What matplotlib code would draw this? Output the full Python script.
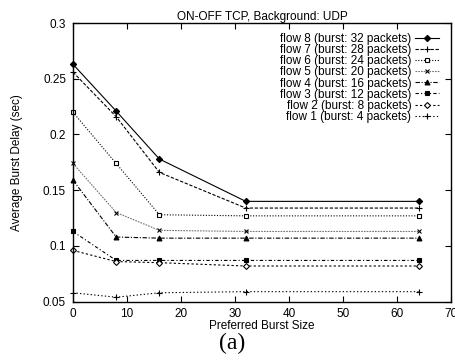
import matplotlib
matplotlib.use('Agg')
import matplotlib.pyplot as plt
from matplotlib.ticker import FormatStrFormatter

plt.rcParams['font.family'] = ['Liberation Sans', 'DejaVu Sans']
plt.rcParams['font.size'] = 8.5

burst_sizes = [0, 8, 16, 32, 64]

labels = [
    'flow 8 (burst: 32 packets)',
    'flow 7 (burst: 28 packets)',
    'flow 6 (burst: 24 packets)',
    'flow 5 (burst: 20 packets)',
    'flow 4 (burst: 16 packets)',
    'flow 3 (burst: 12 packets)',
    'flow 2 (burst: 8 packets)',
    'flow 1 (burst: 4 packets)',
]

flow8 = [0.263, 0.221, 0.178, 0.140, 0.140]
flow7 = [0.256, 0.216, 0.166, 0.134, 0.134]
flow6 = [0.220, 0.174, 0.128, 0.127, 0.127]
flow5 = [0.174, 0.130, 0.114, 0.113, 0.113]
flow4 = [0.159, 0.108, 0.107, 0.107, 0.107]
flow3 = [0.113, 0.087, 0.087, 0.087, 0.087]
flow2 = [0.096, 0.086, 0.085, 0.082, 0.082]
flow1 = [0.058, 0.054, 0.058, 0.059, 0.059]

series = [flow8, flow7, flow6, flow5, flow4, flow3, flow2, flow1]

# gnuplot-ish styles: (colour, dashes, marker, filled, markersize)
styles = [
    ('black', '-', 'D', True, 3.2),
    ('black', (0, (3, 1.5)), '+', True, 4.5),
    ('black', (0, (1, 1.5)), 's', False, 3.5),
    ('0.45', (0, (1.5, 1)), 'x', True, 3.5),
    ('black', (0, (4, 1.5, 1, 1.5)), '^', True, 3.5),
    ('black', (0, (3, 2, 1, 2)), 's', True, 3.2),
    ('black', (0, (2, 2)), 'D', False, 3.0),
    ('black', (0, (1.2, 2)), '+', True, 4.0),
]

fig = plt.figure(figsize=(4.56, 3.6), dpi=100)
ax = fig.add_axes([0.160, 0.162, 0.829, 0.774])

for ys, lab, (col, ls, mk, filled, ms) in zip(series, labels, styles):
    ax.plot(burst_sizes, ys, color=col, linestyle=ls, linewidth=0.8,
            marker=mk, markersize=ms, markeredgewidth=0.8,
            markeredgecolor='black',
            markerfacecolor='black' if filled else 'white',
            label=lab, clip_on=False)

ax.set_xlim(0, 70)
ax.set_ylim(0.05, 0.3)
ax.set_xticks(range(0, 71, 10))
ax.set_yticks([0.05, 0.1, 0.15, 0.2, 0.25, 0.3])
ax.yaxis.set_major_formatter(FormatStrFormatter('%g'))
ax.tick_params(direction='in', top=True, right=True, length=4, width=0.8,
               labelsize=8.5)
ax.tick_params(axis='x', pad=4.5)
ax.tick_params(axis='y', pad=5)
for sp in ax.spines.values():
    sp.set_linewidth(1.0)

ax.set_title('ON-OFF TCP, Background: UDP', fontsize=8.5, pad=2.5)
ax.set_xlabel('Preferred Burst Size', fontsize=8.5, labelpad=0)
ax.set_ylabel('Average Burst Delay (sec)', fontsize=8.5, labelpad=14)

ax.legend(loc='upper right', markerfirst=False, frameon=False, fontsize=8.5,
          handlelength=2.0, handletextpad=0.3, labelspacing=-0.08,
          borderaxespad=0.4, bbox_to_anchor=(0.992, 0.997))

fig.text(0.509, 0.045, '(a)', family='Liberation Serif', fontsize=17,
         ha='center', va='center')

fig.savefig('out.png', dpi=100)
